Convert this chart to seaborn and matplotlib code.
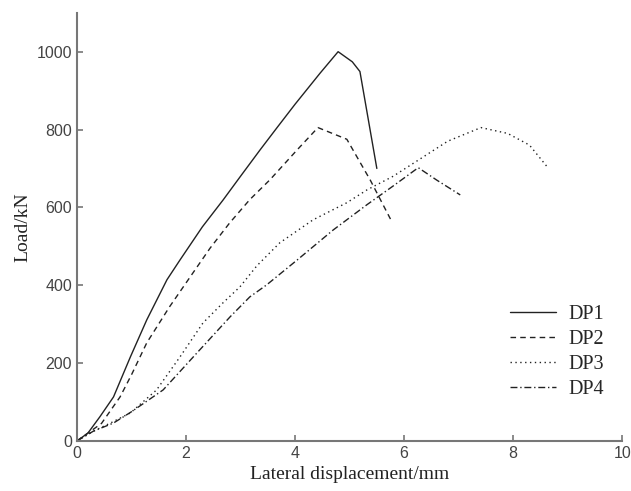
import pandas as pd
import seaborn as sns
import matplotlib
matplotlib.use("Agg")
import matplotlib.pyplot as plt

# load-displacement curves
dp1_x = [0, 0.2, 0.42, 0.67, 0.98, 1.28, 1.65, 1.89, 2.3, 2.68, 3.0, 3.36, 3.67, 4.0, 4.46, 4.79, 5.05, 5.19, 5.5]
dp1_y = [0, 20, 62, 113, 216, 311, 414, 465, 550, 619, 680, 748, 805, 865, 945, 1000, 974, 949, 700]

dp2_x = [0, 0.2, 0.45, 0.79, 1.0, 1.28, 1.7, 2.04, 2.44, 2.8, 3.17, 3.54, 4.04, 4.42, 4.95, 5.38, 5.75]
dp2_y = [0, 20, 45, 113, 170, 252, 345, 414, 495, 560, 620, 671, 748, 805, 775, 670, 570]

dp3_x = [0, 0.3, 0.6, 0.98, 1.46, 1.89, 2.31, 2.68, 2.99, 3.3, 3.72, 4.33, 4.95, 5.32, 5.8, 6.3, 6.8, 7.41, 7.9, 8.3, 8.62]
dp3_y = [0, 25, 45, 72, 131, 216, 303, 355, 396, 450, 509, 568, 612, 645, 680, 725, 770, 805, 790, 760, 705]

dp4_x = [0, 0.3, 0.67, 1.0, 1.58, 2.2, 2.81, 3.17, 3.48, 4.04, 4.7, 5.32, 5.8, 6.26, 6.6, 7.03]
dp4_y = [0, 25, 46, 75, 131, 226, 319, 370, 401, 465, 542, 607, 655, 702, 670, 632]

series_names = ["DP1", "DP2", "DP3", "DP4"]

frames = []
for name, xs, ys in zip(series_names, [dp1_x, dp2_x, dp3_x, dp4_x], [dp1_y, dp2_y, dp3_y, dp4_y]):
    frames.append(pd.DataFrame({"disp": xs, "load": ys, "series": name}))
df = pd.concat(frames, ignore_index=True)

sns.set_style("ticks")
plt.rcParams["xtick.direction"] = "in"
plt.rcParams["ytick.direction"] = "in"

fig = plt.figure(figsize=(6.31, 4.91), dpi=100)
ax = fig.add_axes([0.122, 0.102, 0.864, 0.872])

sns.lineplot(data=df, x="disp", y="load", style="series", hue="series",
             palette=["#222222"] * 4, dashes=["", (4, 3), (1, 2.5), (5, 2, 1, 2)],
             sort=False, estimator=None, linewidth=1.0, ax=ax)

ax.set_xlim(0, 10)
ax.set_ylim(0, 1100)
ax.set_xticks([0, 2, 4, 6, 8, 10])
ax.set_yticks([0, 200, 400, 600, 800, 1000])

for s in ["top", "right"]:
    ax.spines[s].set_visible(False)
for s in ["left", "bottom"]:
    ax.spines[s].set_color("#777777")
    ax.spines[s].set_linewidth(1.5)
ax.tick_params(colors="#777777", labelcolor="#444444", length=4, width=1.2)
for lab in ax.get_xticklabels() + ax.get_yticklabels():
    lab.set_fontfamily("Liberation Sans")
    lab.set_fontsize(11.5)

ax.set_xlabel("Lateral displacement/mm", fontfamily="Liberation Serif", fontsize=14, color="#222222")
ax.set_ylabel("Load/kN", fontfamily="Liberation Serif", fontsize=14, color="#222222")

leg = ax.legend(loc="lower right", bbox_to_anchor=(1.0, 0.055), frameon=False,
                prop={"family": "Liberation Serif", "size": 14.5}, handlelength=2.3,
                labelspacing=0.3, handletextpad=0.6)

fig.savefig("out.png", dpi=100)
